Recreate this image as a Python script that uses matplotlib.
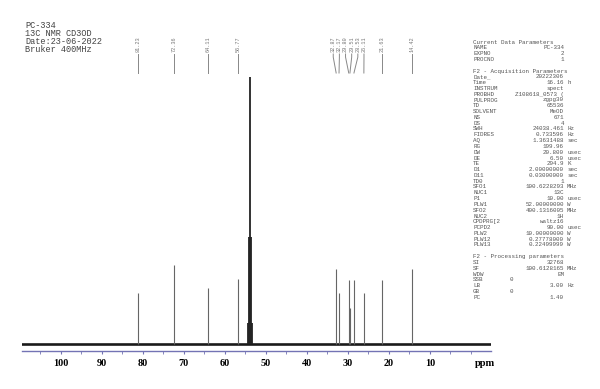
import matplotlib.pyplot as plt
from matplotlib.transforms import blended_transform_factory

# peak shifts (ppm) and relative heights
peak_ppm = [81.23, 72.36, 64.11, 56.77, 32.87, 32.17, 29.80, 29.51, 28.53, 26.11, 21.63, 14.42]
peak_height = [19, 29.5, 21, 24.5, 28, 19, 24, 13.5, 24, 19, 24, 28]
peak_labels = ["81.23", "72.36", "64.11", "56.77", "32.87", "32.17", "29.80",
               "29.51", "28.53", "26.11", "21.63", "14.42"]

# solvent multiplet (big unlabeled peak)
solvent_ppm = [54.38, 54.11, 53.84, 53.57, 53.30]
solvent_height = [8, 40, 100, 40, 8]

tick_major = [100, 90, 80, 70, 60, 50, 40, 30, 20, 10]
tick_minor = [105, 95, 85, 75, 65, 55, 45, 35, 25, 15, 5, 0]

header_lines = ["PC-334", "13C NMR CD3OD", "Date:23-06-2022", "Bruker 400MHz"]

param_names = ["Current Data Parameters", "NAME", "EXPNO", "PROCNO", "",
               "F2 - Acquisition Parameters", "Date_", "Time", "INSTRUM", "PROBHD",
               "PULPROG", "TD", "SOLVENT", "NS", "DS", "SWH", "FIDRES", "AQ", "RG",
               "DW", "DE", "TE", "D1", "D11", "TD0", "SFO1", "NUC1", "P1", "PLW1",
               "SFO2", "NUC2", "CPDPRG[2", "PCPD2", "PLW2", "PLW12", "PLW13", "",
               "F2 - Processing parameters", "SI", "SF", "WDW", "SSB", "LB", "GB", "PC"]
param_values = ["", "PC-334", "2", "1", "", "", "20222306", "16.16", "spect",
                "Z108618_0573 (", "zgpg30", "65536", "MeOD", "671", "4", "24038.461",
                "0.733596", "1.3631488", "199.96", "20.800", "6.50", "294.9",
                "2.00000000", "0.03000000", "1", "100.6228293", "13C", "10.00",
                "52.00000000", "400.1316005", "1H", "waltz16", "90.00", "10.00000000",
                "0.27778000", "0.22499999", "", "", "32768", "100.6128165", "EM",
                "0", "3.00", "0", "1.40"]
param_units = ["", "", "", "", "", "", "", "h", "", "", "", "", "", "", "", "Hz", "Hz",
               "sec", "", "usec", "usec", "K", "sec", "sec", "", "MHz", "", "usec",
               "W", "MHz", "", "", "usec", "W", "W", "W", "", "", "", "MHz", "", "",
               "Hz", "", ""]

W, H = 600, 389
fig = plt.figure(figsize=(6, 3.89), dpi=100)
ax = fig.add_axes([22 / W, 1 - 351 / H, 469 / W, (351 - 20) / H])

axis_col = "#7373b4"
ax.axhline(0, color="#1a1a1a", lw=1.9, zorder=1)
ax.vlines(peak_ppm, 0, peak_height, color="#666666", lw=0.8, zorder=2)
ax.vlines(solvent_ppm, 0, solvent_height, color="#222222", lw=1.3, zorder=3)

ax.set_xlim(109.5, -4.9)
ax.set_ylim(-2.6, 121.3)
for s in ["top", "left", "right"]:
    ax.spines[s].set_visible(False)
ax.spines["bottom"].set_color(axis_col)
ax.spines["bottom"].set_linewidth(1.0)
ax.set_yticks([])
ax.set_xticks(tick_major)
ax.set_xticks(tick_minor, minor=True)
ax.set_xticklabels([str(t) for t in tick_major], family="Liberation Serif",
                   fontsize=7.3, fontweight="bold")
ax.tick_params(axis="x", which="both", color=axis_col, direction="out", length=2.5, pad=3)
ax.tick_params(axis="x", which="minor", length=2)
fig.text(485 / W, 1 - 363 / H, "ppm", family="Liberation Serif", fontsize=7.5,
         fontweight="bold", ha="center", va="center")

# spread label positions so the texts don't overlap
min_gap = 1.5
pos = list(peak_ppm)
for _ in range(300):
    for i in range(len(pos) - 1):
        if pos[i] - pos[i + 1] < min_gap:
            mid = (pos[i] + pos[i + 1]) / 2
            pos[i] = mid + min_gap / 2
            pos[i + 1] = mid - min_gap / 2

tr = blended_transform_factory(ax.transData, fig.transFigure)
y_top = 1 - 54 / H
y_bot = 1 - 73 / H
for p, lp, lab in zip(peak_ppm, pos, peak_labels):
    ax.plot([lp, lp, p], [y_top, y_top - 0.008, y_bot], transform=tr, color="#888888",
            lw=0.7, clip_on=False)
    ax.text(lp, y_top + 0.006, lab, transform=tr, rotation=90, ha="center", va="bottom",
            fontsize=3.8, family="Liberation Mono", color="#777777")

for i, line in enumerate(header_lines):
    fig.text(25 / W, 1 - (25 + 8.3 * i) / H, line, family="Liberation Mono", fontsize=6.2,
             color="#444444", va="center")

for i, (n, v, u) in enumerate(zip(param_names, param_values, param_units)):
    y = 1 - (42 + 5.8 * i) / H
    fig.text(473 / W, y, n, family="Liberation Mono", fontsize=4.2, color="#555555",
             va="center")
    if n in ("SSB", "GB"):
        fig.text(510 / W, y, v, family="Liberation Mono", fontsize=4.2, color="#555555",
                 va="center")
    else:
        fig.text(564 / W, y, v, family="Liberation Mono", fontsize=4.2, color="#555555",
                 va="center", ha="right")
    fig.text(567 / W, y, u, family="Liberation Mono", fontsize=4.2, color="#555555",
             va="center")

plt.savefig("out.png", dpi=100)
